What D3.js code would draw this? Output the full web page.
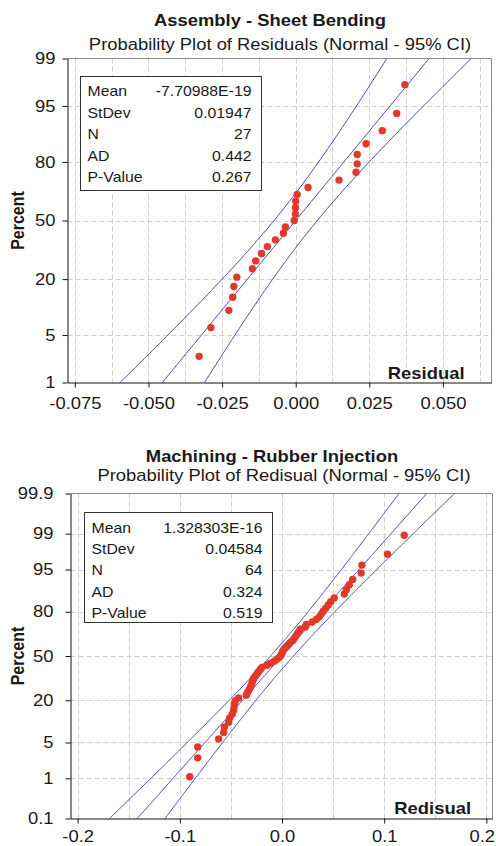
<!DOCTYPE html>
<html><head><meta charset="utf-8">
<script src="https://cdn.jsdelivr.net/npm/d3@7"></script>
<style>
body{margin:0;background:#fff;}
svg text{font-family:"Liberation Sans",Arial,Helvetica,sans-serif;fill:#1a1a1a;}
</style></head><body>
<svg id="c" width="496" height="846"></svg>
<script>
// ---------- Chart 1 data ----------
const topTitle = "Assembly - Sheet Bending";
const topSubtitle = "Probability Plot of Residuals (Normal - 95% CI)";
const topXLabel = "Residual";
const topResiduals = [-0.0328,-0.0288,-0.0227,-0.0214,-0.0210,-0.0200,-0.0147,-0.0136,-0.0116,-0.0096,
  -0.0069,-0.0042,-0.0035,-0.0005,-0.0001,-0.0001,0.0000,0.0005,0.0042,0.0147,
  0.0205,0.0209,0.0209,0.0239,0.0294,0.0343,0.0371];
const topStatLabels = ["Mean","StDev","N","AD","P-Value"];
const topStatValues = ["-7.70988E-19","0.01947","27","0.442","0.267"];
const topPercentTicks = [1,5,20,50,80,95,99];
const topPercentTickLabels = ["1","5","20","50","80","95","99"];
const topXTicks = [-0.075,-0.05,-0.025,0,0.025,0.05];
const topXTickLabels = ["-0.075","-0.050","-0.025","0.000","0.025","0.050"];
const topXGrid = [-0.075,-0.0625,-0.05,-0.0375,-0.025,-0.0125,0,0.0125,0.025,0.0375,0.05,0.0625];
const topXDomain = [-0.0775,0.0665];
const topPercentDomain = [1,99];

// ---------- Chart 2 data ----------
const botTitle = "Machining - Rubber Injection";
const botSubtitle = "Probability Plot of Redisual (Normal - 95% CI)";
const botXLabel = "Redisual";
const botResiduals = [-0.0903,-0.0825,-0.0825,-0.0620,-0.0571,-0.0564,-0.0522,-0.0512,-0.0486,-0.0473,
  -0.0469,-0.0466,-0.0456,-0.0424,-0.0349,-0.0339,-0.0323,-0.0310,-0.0300,-0.0293,
  -0.0285,-0.0278,-0.0261,-0.0244,-0.0229,-0.0212,-0.0196,-0.0147,-0.0114,-0.0075,
  -0.0046,-0.0022,-0.0007,0.0000,0.0008,0.0022,0.0042,0.0062,0.0081,0.0106,
  0.0120,0.0135,0.0150,0.0164,0.0179,0.0228,0.0238,0.0296,0.0335,0.0365,
  0.0384,0.0404,0.0428,0.0453,0.0477,0.0511,0.0609,0.0629,0.0658,0.0692,
  0.0775,0.0782,0.1032,0.1196];
const botStatLabels = ["Mean","StDev","N","AD","P-Value"];
const botStatValues = ["1.328303E-16","0.04584","64","0.324","0.519"];
const botPercentTicks = [0.1,1,5,20,50,80,95,99,99.9];
const botPercentTickLabels = ["0.1","1","5","20","50","80","95","99","99.9"];
const botXTicks = [-0.2,-0.1,0,0.1,0.2];
const botXTickLabels = ["-0.2","-0.1","0.0","0.1","0.2"];
const botXGrid = [-0.2,-0.15,-0.1,-0.05,0,0.05,0.1,0.15,0.2];
const botXDomain = [-0.207,0.206];
const botPercentDomain = [0.1,99.9];

// inverse standard normal CDF (Acklam)
function qnorm(p){
  const a=[-3.969683028665376e+01,2.209460984245205e+02,-2.759285104469687e+02,1.383577518672690e+02,-3.066479806614716e+01,2.506628277459239e+00];
  const b=[-5.447609879822406e+01,1.615858368580409e+02,-1.556989798598866e+02,6.680131188771972e+01,-1.328068155288572e+01];
  const c=[-7.784894002430293e-03,-3.223964580411365e-01,-2.400758277161838e+00,-2.549671010149718e+00,4.374664141464968e+00,2.938163982698783e+00];
  const d=[7.784695709041462e-03,3.224671290700398e-01,2.445134137142996e+00,3.754408661907416e+00];
  const pl=0.02425; let q,r;
  if(p<pl){q=Math.sqrt(-2*Math.log(p));return (((((c[0]*q+c[1])*q+c[2])*q+c[3])*q+c[4])*q+c[5])/((((d[0]*q+d[1])*q+d[2])*q+d[3])*q+1);}
  if(p<=1-pl){q=p-0.5;r=q*q;return (((((a[0]*r+a[1])*r+a[2])*r+a[3])*r+a[4])*r+a[5])*q/(((((b[0]*r+b[1])*r+b[2])*r+b[3])*r+b[4])*r+1);}
  q=Math.sqrt(-2*Math.log(1-p));return -(((((c[0]*q+c[1])*q+c[2])*q+c[3])*q+c[4])*q+c[5])/((((d[0]*q+d[1])*q+d[2])*q+d[3])*q+1);
}

const svg = d3.select("#c");
const SX = 1.15; // horizontal stretch of the reference lettering

function stext(parent, x, y, str, size, opts={}){
  const t = parent.append("text")
    .attr("transform",`translate(${x},${y}) scale(${opts.sx||SX},1)`)
    .attr("text-anchor",opts.anchor||"start")
    .style("font-size",size+"px")
    .text(str);
  if(opts.bold) t.style("font-weight","bold");
  return t;
}

function drawChart(cfg){
  const g = svg.append("g");
  const {L,R,T,B} = cfg.box;
  const x = d3.scaleLinear().domain(cfg.xDomain).range([L,R]);
  const zMin = qnorm(cfg.pDomain[0]/100), zMax = qnorm(cfg.pDomain[1]/100);
  const y = d3.scaleLinear().domain([zMin,zMax]).range([B,T]);
  const yTicksZ = cfg.pTicks.map(p=>qnorm(p/100));

  // titles
  stext(g, cfg.titleX, cfg.titleY, cfg.title, 16, {anchor:"middle", bold:true});
  stext(g, cfg.subX, cfg.subY, cfg.subtitle, 16, {anchor:"middle"});

  // grid
  const grid = g.append("g").attr("stroke","#cfcfcf").attr("stroke-width",1).attr("stroke-dasharray","5,3");
  grid.selectAll("line.v").data(cfg.xGrid).join("line")
    .attr("x1",d=>Math.round(x(d))+0.5).attr("x2",d=>Math.round(x(d))+0.5).attr("y1",T).attr("y2",B);
  grid.selectAll("line.h").data(yTicksZ.slice(1,-1)).join("line")
    .attr("y1",d=>Math.round(y(d))+0.5).attr("y2",d=>Math.round(y(d))+0.5).attr("x1",L).attr("x2",R);

  // frame top/right (gray)
  g.append("path").attr("d",`M${L},${T}H${R}V${B}`).attr("fill","none").attr("stroke","#8a8a8a").attr("stroke-width",1);

  // clip
  const cid = "clip"+cfg.id;
  svg.append("clipPath").attr("id",cid).append("rect").attr("x",L).attr("y",T).attr("width",R-L).attr("height",B-T);

  // fit line + 95% CI bands from the reported mean / stdev / N
  const mean = +cfg.statValues[0], sd = +cfg.statValues[1], n = +cfg.statValues[2];
  const zs = d3.range(zMin-0.6, zMax+0.6, 0.02);
  const half = z => 1.959964*sd*Math.sqrt(1/n + z*z/(2*(n-1)));
  const lineGen = d3.line().x(d=>x(d[0])).y(d=>y(d[1]));
  const curves = [
    zs.map(z=>[mean+z*sd-half(z),z]),
    zs.map(z=>[mean+z*sd,z]),
    zs.map(z=>[mean+z*sd+half(z),z])
  ];
  g.append("g").attr("clip-path",`url(#${cid})`).selectAll("path").data(curves).join("path")
    .attr("d",lineGen).attr("fill","none").attr("stroke","#3a48b4").attr("stroke-width",1);

  // points at median ranks
  const N = cfg.residuals.length;
  g.append("g").selectAll("circle").data(cfg.residuals).join("circle")
    .attr("cx",d=>x(d)).attr("cy",(d,i)=>y(qnorm((i+1-0.3)/(N+0.4))))
    .attr("r",3.7).attr("fill","#e2382a");

  // axes
  const xAxis = d3.axisBottom(x).tickValues(cfg.xTicks).tickFormat((d,i)=>cfg.xTickLabels[i]).tickSize(5).tickSizeOuter(0).tickPadding(cfg.xPad);
  const ax = g.append("g").attr("transform",`translate(0,${B})`).call(xAxis);
  const yAxis = d3.axisLeft(y).tickValues(yTicksZ).tickFormat((d,i)=>cfg.pTickLabels[i]).tickSize(5).tickSizeOuter(0).tickPadding(cfg.yPad);
  const ay = g.append("g").attr("transform",`translate(${L},0)`).call(yAxis);
  [ax,ay].forEach(a=>{
    a.select(".domain").attr("stroke","#111");
    a.selectAll(".tick line").attr("stroke","#111");
    a.selectAll(".tick text").style("font-size","16px").style("font-family","'Liberation Sans',Arial,sans-serif")
      .attr("fill","#1a1a1a").attr("transform",`scale(${SX},1)`);
  });
  ay.selectAll(".tick text").attr("x",-(5+cfg.yPad)/SX);
  // keep the outermost x label inside the page
  ax.selectAll(".tick text").each(function(){
    const bb = this.getBoundingClientRect();
    if(bb.right > 495) d3.select(this).attr("x", -(bb.right-495)/SX);
  });

  // axis titles
  g.append("text").attr("transform",`translate(${cfg.pctX},${(T+B)/2}) scale(${SX},1) rotate(-90)`).attr("text-anchor","middle")
    .style("font-size","16px").style("font-weight","bold").text("Percent");
  stext(g, cfg.xlabX, cfg.xlabY, cfg.xLabel, 16, {anchor:"end", bold:true});

  // stats box
  const bx = cfg.legend;
  g.append("rect").attr("x",bx.x).attr("y",bx.y).attr("width",bx.w).attr("height",bx.h)
    .attr("fill","#fff").attr("stroke","#333").attr("stroke-width",1);
  cfg.statLabels.forEach((s,i)=>stext(g, bx.x+7, bx.row0+i*bx.step, s, 14, {sx:1.13}));
  cfg.statValues.forEach((s,i)=>stext(g, bx.x+bx.w-10, bx.row0+i*bx.step, s, 14, {sx:1.13, anchor:"end"}));
}

drawChart({id:1, title:topTitle, subtitle:topSubtitle, xLabel:topXLabel,
  titleX:270, titleY:26, subX:280, subY:49.5,
  box:{L:67.5,R:491.5,T:58.5,B:382.5},
  xDomain:topXDomain, pDomain:topPercentDomain,
  xTicks:topXTicks, xTickLabels:topXTickLabels, xGrid:topXGrid,
  pTicks:topPercentTicks, pTickLabels:topPercentTickLabels,
  residuals:topResiduals, statLabels:topStatLabels, statValues:topStatValues,
  xPad:10, yPad:7, pctX:24, xlabX:464.5, xlabY:379,
  legend:{x:80.5,y:76.5,w:181,h:114,row0:96,step:21.5}
});

drawChart({id:2, title:botTitle, subtitle:botSubtitle, xLabel:botXLabel,
  titleX:272, titleY:462, subX:284, subY:480.5,
  box:{L:70.5,R:492.5,T:493.5,B:818.5},
  xDomain:botXDomain, pDomain:botPercentDomain,
  xTicks:botXTicks, xTickLabels:botXTickLabels, xGrid:botXGrid,
  pTicks:botPercentTicks, pTickLabels:botPercentTickLabels,
  residuals:botResiduals, statLabels:botStatLabels, statValues:botStatValues,
  xPad:7.5, yPad:12, pctX:24, xlabX:471, xlabY:813.5,
  legend:{x:84.5,y:512.5,w:188,h:110,row0:532.5,step:21.4}
});
</script>
</body></html>
